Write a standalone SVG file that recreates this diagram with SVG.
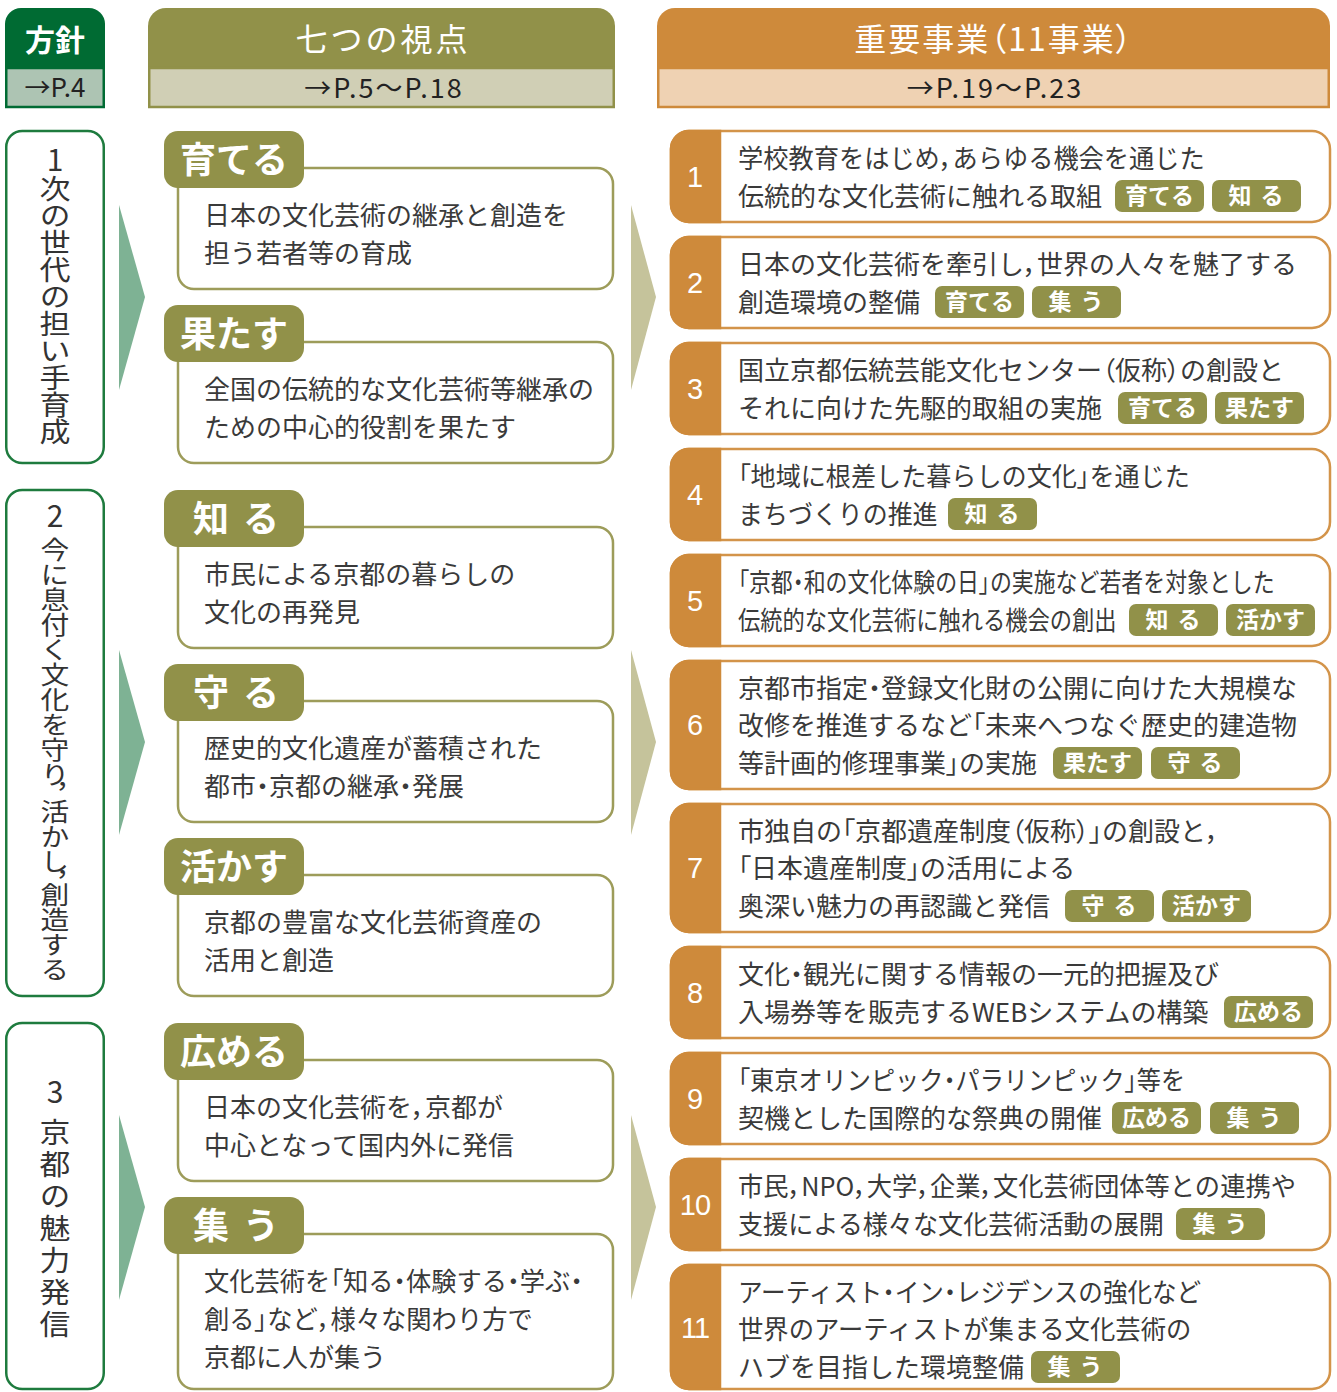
<svg xmlns="http://www.w3.org/2000/svg" width="1337" height="1392" viewBox="0 0 1337 1392">
<style>
text{font-family:"Noto Sans CJK JP","Noto Sans CJK SC",sans-serif;}
.body{font-size:26px;fill:#3a3a3a;}
.h{font-feature-settings:"palt" 1;}
.vt{writing-mode:vertical-rl;text-orientation:upright;fill:#333;}
.vn{font-size:30px;fill:#333;text-anchor:middle;}
.num{font-family:"Liberation Sans",Arial,sans-serif;font-size:29px;fill:#fff;text-anchor:middle;}
.btag{fill:#919149;}
.btagt{font-size:36px;font-weight:700;fill:#fff;text-anchor:middle;}
.stag{fill:#919149;}
.stagt{font-size:23px;font-weight:700;fill:#fff;text-anchor:middle;}
.pbox{fill:#fff;stroke:#9d9c5a;stroke-width:2.5;}
.rbox{fill:#fff;stroke:#d3944a;stroke-width:2.5;}
.bar{fill:#ce8a3b;stroke:#ce8a3b;stroke-width:2.5;}
.lbox{fill:#fff;stroke:#1e7b3e;stroke-width:2.5;}
.ht{fill:#fff;text-anchor:middle;}
.hp{fill:#222;text-anchor:middle;}
.garrow{fill:#7eb294;}
.oarrow{fill:#c5c39b;}
</style>
<rect width="1337" height="1392" fill="#fff"/>

<!-- headers -->
<g id="header-houshin">
<path d="M5,68 V24 A16,16 0 0 1 21,8 H89 A16,16 0 0 1 105,24 V68 Z" fill="#006b33"/>
<rect x="6.25" y="68" width="97.5" height="39" fill="#adc4b3" stroke="#006b33" stroke-width="2.5"/>
<text class="ht" x="55" y="51" font-size="30" font-weight="700">方針</text>
<text class="hp" x="55" y="97" font-size="26">→P.4</text>
</g>
<g id="header-shiten">
<path d="M148,68 V26 A18,18 0 0 1 166,8 H597 A18,18 0 0 1 615,26 V68 Z" fill="#919149"/>
<rect x="149.25" y="68" width="464.5" height="39" fill="#d0cfb5" stroke="#919149" stroke-width="2.5"/>
<text class="ht" x="383" y="51" font-size="32" letter-spacing="3">七つの視点</text>
<text class="hp" x="384" y="98" font-size="27" letter-spacing="2">→P.5〜P.18</text>
</g>
<g id="header-jigyou">
<path d="M657,68 V26 A18,18 0 0 1 675,8 H1312 A18,18 0 0 1 1330,26 V68 Z" fill="#ce8a3b"/>
<rect x="658.25" y="68" width="670.5" height="39" fill="#efd2b3" stroke="#ce8a3b" stroke-width="2.5"/>
<text class="ht" x="994" y="51" font-size="32" letter-spacing="2">重要事業<tspan class="h">（</tspan>11事業<tspan class="h">）</tspan></text>
<text class="hp" x="995" y="98" font-size="27" letter-spacing="2">→P.19〜P.23</text>
</g>

<!-- connectors (arrows) -->
<g id="connectors">
<polygon class="garrow" points="119,205 145,297 119,390"/>
<polygon class="garrow" points="119,650 145,742 119,835"/>
<polygon class="garrow" points="119,1115 145,1207 119,1300"/>
<polygon class="oarrow" points="631,205 656,297 631,390"/>
<polygon class="oarrow" points="631,650 656,742 631,835"/>
<polygon class="oarrow" points="631,1115 656,1207 631,1300"/>
</g>

<!-- left column: policies -->
<g id="policy-1">
<rect class="lbox" x="6.25" y="131" width="97.5" height="332" rx="16"/>
<text class="vn" x="55" y="171">1</text>
<text class="vt" x="55" y="175.5" font-size="27" transform="matrix(1.15,0,0,1,-8.25,0)">次の世代の担い手育成</text>
</g>
<g id="policy-2">
<rect class="lbox" x="6.25" y="490" width="97.5" height="506" rx="16"/>
<text class="vn" x="55" y="527">2</text>
<text class="vt" x="55" y="537.5 562.5 587.5 612.5 637.5 662.5 687.5 712.5 737.5 762.5 782 799.5 824.5 849.5 870 882.5 907.5 932.5 957.5" font-size="25" transform="matrix(1.15,0,0,1,-8.25,0)">今に息付く文化を守り，活かし，創造する</text>
</g>
<g id="policy-3">
<rect class="lbox" x="6.25" y="1023" width="97.5" height="366" rx="16"/>
<text class="vn" x="55" y="1103">3</text>
<text class="vt" x="55" y="1118" font-size="28" letter-spacing="4" transform="matrix(1.1,0,0,1,-5.5,0)">京都の魅力発信</text>
</g>

<!-- middle column: seven viewpoints -->
<g id="view-sodateru">
<rect class="pbox" x="178" y="168" width="435" height="121" rx="16"/>
<rect class="btag" x="164" y="131" width="140" height="57" rx="14"/>
<text class="btagt" x="234" y="173">育てる</text>
<text class="body" x="204" y="225">日本の文化芸術の継承と創造を</text>
<text class="body" x="204" y="263">担う若者等の育成</text>
</g>
<g id="view-hatasu">
<rect class="pbox" x="178" y="342" width="435" height="121" rx="16"/>
<rect class="btag" x="164" y="305" width="140" height="57" rx="14"/>
<text class="btagt" x="234" y="347">果たす</text>
<text class="body" x="204" y="399">全国の伝統的な文化芸術等継承の</text>
<text class="body" x="204" y="437">ための中心的役割を果たす</text>
</g>
<g id="view-shiru">
<rect class="pbox" x="178" y="527" width="435" height="121" rx="16"/>
<rect class="btag" x="164" y="490" width="140" height="57" rx="14"/>
<text class="btagt" x="243" y="532" letter-spacing="14">知る</text>
<text class="body" x="204" y="584">市民による京都の暮らしの</text>
<text class="body" x="204" y="622">文化の再発見</text>
</g>
<g id="view-mamoru">
<rect class="pbox" x="178" y="701" width="435" height="121" rx="16"/>
<rect class="btag" x="164" y="664" width="140" height="57" rx="14"/>
<text class="btagt" x="243" y="706" letter-spacing="14">守る</text>
<text class="body" x="204" y="758">歴史的文化遺産が蓄積された</text>
<text class="body" x="204" y="796">都市<tspan class="h">・</tspan>京都の継承<tspan class="h">・</tspan>発展</text>
</g>
<g id="view-ikasu">
<rect class="pbox" x="178" y="875" width="435" height="121" rx="16"/>
<rect class="btag" x="164" y="838" width="140" height="57" rx="14"/>
<text class="btagt" x="234" y="880">活かす</text>
<text class="body" x="204" y="932">京都の豊富な文化芸術資産の</text>
<text class="body" x="204" y="970">活用と創造</text>
</g>
<g id="view-hiromeru">
<rect class="pbox" x="178" y="1060" width="435" height="121" rx="16"/>
<rect class="btag" x="164" y="1023" width="140" height="57" rx="14"/>
<text class="btagt" x="234" y="1065">広める</text>
<text class="body" x="204" y="1117">日本の文化芸術を<tspan class="h">，</tspan>京都が</text>
<text class="body" x="204" y="1155">中心となって国内外に発信</text>
</g>
<g id="view-tsudou">
<rect class="pbox" x="178" y="1234" width="435" height="155" rx="16"/>
<rect class="btag" x="164" y="1197" width="140" height="57" rx="14"/>
<text class="btagt" x="243" y="1239" letter-spacing="14">集う</text>
<text class="body" x="204" y="1291" transform="matrix(0.972,0,0,1,5.71,0)">文化芸術を<tspan class="h">「</tspan>知る<tspan class="h">・</tspan>体験する<tspan class="h">・</tspan>学ぶ<tspan class="h">・</tspan></text>
<text class="body" x="204" y="1329" transform="matrix(0.973,0,0,1,5.51,0)">創る<tspan class="h">」</tspan>など<tspan class="h">，</tspan>様々な関わり方で</text>
<text class="body" x="204" y="1367">京都に人が集う</text>
</g>

<!-- right column: key projects -->
<g id="project-1">
<rect class="rbox" x="671" y="131" width="659" height="91" rx="18"/>
<path class="bar" d="M720,131 H689 A18,18 0 0 0 671,149 V204 A18,18 0 0 0 689,222 H720 Z"/>
<text class="num" x="695" y="187">1</text>
<text class="body" x="738" y="168" transform="matrix(0.971,0,0,1,21.4,0)">学校教育をはじめ<tspan class="h">，</tspan>あらゆる機会を通じた</text>
<text class="body" x="738" y="206">伝統的な文化芸術に触れる取組</text>
<rect class="stag" x="1115" y="180" width="89" height="32" rx="7"/><text class="stagt" x="1159.5" y="204">育てる</text>
<rect class="stag" x="1212" y="180" width="89" height="32" rx="7"/><text class="stagt" x="1260.5" y="204" letter-spacing="9">知る</text>
</g>
<g id="project-2">
<rect class="rbox" x="671" y="237" width="659" height="91" rx="18"/>
<path class="bar" d="M720,237 H689 A18,18 0 0 0 671,255 V310 A18,18 0 0 0 689,328 H720 Z"/>
<text class="num" x="695" y="293">2</text>
<text class="body" x="738" y="274">日本の文化芸術を牽引し<tspan class="h">，</tspan>世界の人々を魅了する</text>
<text class="body" x="738" y="312">創造環境の整備</text>
<rect class="stag" x="935" y="286" width="89" height="32" rx="7"/><text class="stagt" x="979.5" y="310">育てる</text>
<rect class="stag" x="1032" y="286" width="89" height="32" rx="7"/><text class="stagt" x="1080.5" y="310" letter-spacing="9">集う</text>
</g>
<g id="project-3">
<rect class="rbox" x="671" y="343" width="659" height="91" rx="18"/>
<path class="bar" d="M720,343 H689 A18,18 0 0 0 671,361 V416 A18,18 0 0 0 689,434 H720 Z"/>
<text class="num" x="695" y="399">3</text>
<text class="body" x="738" y="380">国立京都伝統芸能文化センター<tspan class="h">（</tspan>仮称<tspan class="h">）</tspan>の創設と</text>
<text class="body" x="738" y="418">それに向けた先駆的取組の実施</text>
<rect class="stag" x="1118" y="392" width="89" height="32" rx="7"/><text class="stagt" x="1162.5" y="416">育てる</text>
<rect class="stag" x="1215" y="392" width="89" height="32" rx="7"/><text class="stagt" x="1259.5" y="416">果たす</text>
</g>
<g id="project-4">
<rect class="rbox" x="671" y="449" width="659" height="91" rx="18"/>
<path class="bar" d="M720,449 H689 A18,18 0 0 0 671,467 V522 A18,18 0 0 0 689,540 H720 Z"/>
<text class="num" x="695" y="505">4</text>
<text class="body" x="738" y="486" transform="matrix(0.966,0,0,1,25.09,0)"><tspan class="h">「</tspan>地域に根差した暮らしの文化<tspan class="h">」</tspan>を通じた</text>
<text class="body" x="738" y="524" transform="matrix(0.96,0,0,1,29.52,0)">まちづくりの推進</text>
<rect class="stag" x="948" y="498" width="89" height="32" rx="7"/><text class="stagt" x="996.5" y="522" letter-spacing="9">知る</text>
</g>
<g id="project-5">
<rect class="rbox" x="671" y="555" width="659" height="91" rx="18"/>
<path class="bar" d="M720,555 H689 A18,18 0 0 0 671,573 V628 A18,18 0 0 0 689,646 H720 Z"/>
<text class="num" x="695" y="611">5</text>
<text class="body" x="738" y="592" transform="matrix(0.843,0,0,1,115.87,0)"><tspan class="h">「</tspan>京都<tspan class="h">・</tspan>和の文化体験の日<tspan class="h">」</tspan>の実施など若者を対象とした</text>
<text class="body" x="738" y="630" transform="matrix(0.857,0,0,1,105.53,0)">伝統的な文化芸術に触れる機会の創出</text>
<rect class="stag" x="1129" y="604" width="89" height="32" rx="7"/><text class="stagt" x="1177.5" y="628" letter-spacing="9">知る</text>
<rect class="stag" x="1226" y="604" width="89" height="32" rx="7"/><text class="stagt" x="1270.5" y="628">活かす</text>
</g>
<g id="project-6">
<rect class="rbox" x="671" y="661" width="659" height="128" rx="18"/>
<path class="bar" d="M720,661 H689 A18,18 0 0 0 671,679 V771 A18,18 0 0 0 689,789 H720 Z"/>
<text class="num" x="695" y="735">6</text>
<text class="body" x="738" y="698">京都市指定<tspan class="h">・</tspan>登録文化財の公開に向けた大規模な</text>
<text class="body" x="738" y="735">改修を推進するなど<tspan class="h">「</tspan>未来へつなぐ歴史的建造物</text>
<text class="body" x="738" y="773">等計画的修理事業<tspan class="h">」</tspan>の実施</text>
<rect class="stag" x="1053" y="747" width="89" height="32" rx="7"/><text class="stagt" x="1097.5" y="771">果たす</text>
<rect class="stag" x="1151" y="747" width="89" height="32" rx="7"/><text class="stagt" x="1199.5" y="771" letter-spacing="9">守る</text>
</g>
<g id="project-7">
<rect class="rbox" x="671" y="804" width="659" height="128" rx="18"/>
<path class="bar" d="M720,804 H689 A18,18 0 0 0 671,822 V914 A18,18 0 0 0 689,932 H720 Z"/>
<text class="num" x="695" y="878">7</text>
<text class="body" x="738" y="841">市独自の<tspan class="h">「</tspan>京都遺産制度<tspan class="h">（</tspan>仮称<tspan class="h">）」</tspan>の創設と<tspan class="h">，</tspan></text>
<text class="body" x="738" y="878"><tspan class="h">「</tspan>日本遺産制度<tspan class="h">」</tspan>の活用による</text>
<text class="body" x="738" y="916">奥深い魅力の再認識と発信</text>
<rect class="stag" x="1065" y="890" width="89" height="32" rx="7"/><text class="stagt" x="1113.5" y="914" letter-spacing="9">守る</text>
<rect class="stag" x="1162" y="890" width="89" height="32" rx="7"/><text class="stagt" x="1206.5" y="914">活かす</text>
</g>
<g id="project-8">
<rect class="rbox" x="671" y="947" width="659" height="91" rx="18"/>
<path class="bar" d="M720,947 H689 A18,18 0 0 0 671,965 V1020 A18,18 0 0 0 689,1038 H720 Z"/>
<text class="num" x="695" y="1003">8</text>
<text class="body" x="738" y="984">文化<tspan class="h">・</tspan>観光に関する情報の一元的把握及び</text>
<text class="body" x="738" y="1022">入場券等を販売するWEBシステムの構築</text>
<rect class="stag" x="1224" y="996" width="89" height="32" rx="7"/><text class="stagt" x="1268.5" y="1020">広める</text>
</g>
<g id="project-9">
<rect class="rbox" x="671" y="1053" width="659" height="91" rx="18"/>
<path class="bar" d="M720,1053 H689 A18,18 0 0 0 671,1071 V1126 A18,18 0 0 0 689,1144 H720 Z"/>
<text class="num" x="695" y="1109">9</text>
<text class="body" x="738" y="1090" transform="matrix(0.93,0,0,1,51.66,0)"><tspan class="h">「</tspan>東京オリンピック<tspan class="h">・</tspan>パラリンピック<tspan class="h">」</tspan>等を</text>
<text class="body" x="738" y="1128">契機とした国際的な祭典の開催</text>
<rect class="stag" x="1112" y="1102" width="89" height="32" rx="7"/><text class="stagt" x="1156.5" y="1126">広める</text>
<rect class="stag" x="1210" y="1102" width="89" height="32" rx="7"/><text class="stagt" x="1258.5" y="1126" letter-spacing="9">集う</text>
</g>
<g id="project-10">
<rect class="rbox" x="671" y="1159" width="659" height="91" rx="18"/>
<path class="bar" d="M720,1159 H689 A18,18 0 0 0 671,1177 V1232 A18,18 0 0 0 689,1250 H720 Z"/>
<text class="num" x="695" y="1215" letter-spacing="-1">10</text>
<text class="body" x="738" y="1196" transform="matrix(0.972,0,0,1,20.66,0)">市民<tspan class="h">，</tspan>NPO<tspan class="h">，</tspan>大学<tspan class="h">，</tspan>企業<tspan class="h">，</tspan>文化芸術団体等との連携や</text>
<text class="body" x="738" y="1234" transform="matrix(0.966,0,0,1,25.09,0)">支援による様々な文化芸術活動の展開</text>
<rect class="stag" x="1176" y="1208" width="89" height="32" rx="7"/><text class="stagt" x="1224.5" y="1232" letter-spacing="9">集う</text>
</g>
<g id="project-11">
<rect class="rbox" x="671" y="1265" width="659" height="124" rx="18"/>
<path class="bar" d="M720,1265 H689 A18,18 0 0 0 671,1283 V1371 A18,18 0 0 0 689,1389 H720 Z"/>
<text class="num" x="695" y="1338" letter-spacing="-1">11</text>
<text class="body" x="738" y="1302" transform="matrix(0.945,0,0,1,40.59,0)">アーティスト<tspan class="h">・</tspan>イン<tspan class="h">・</tspan>レジデンスの強化など</text>
<text class="body" x="738" y="1339" transform="matrix(0.976,0,0,1,17.71,0)">世界のアーティストが集まる文化芸術の</text>
<text class="body" x="738" y="1377">ハブを目指した環境整備</text>
<rect class="stag" x="1031" y="1351" width="89" height="32" rx="7"/><text class="stagt" x="1079.5" y="1375" letter-spacing="9">集う</text>
</g>
</svg>
